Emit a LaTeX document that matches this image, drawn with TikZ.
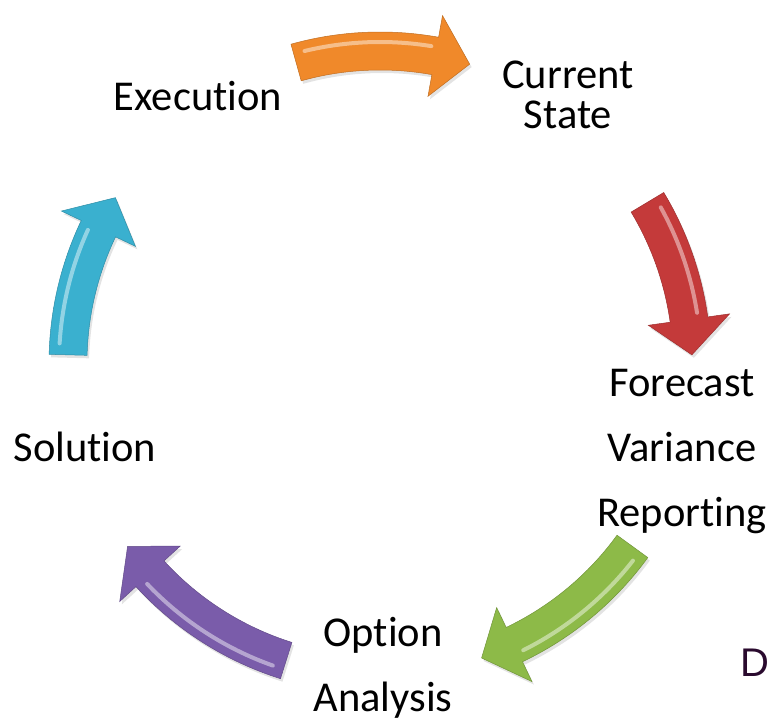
\documentclass[tikz,border=0pt]{standalone}
\usepackage{fontspec}
\setmainfont{Carlito}[Ligatures=NoCommon]
\newfontfamily\plainsans{Liberation Sans}
\usepackage{tikz}
\usetikzlibrary{shadows}
\usepackage{xcolor}

\definecolor{orangeA}{RGB}{240,137,42}
\definecolor{redA}{RGB}{196,58,58}
\definecolor{greenA}{RGB}{141,186,72}
\definecolor{purpleA}{RGB}{122,92,170}
\definecolor{cyanA}{RGB}{58,176,207}
\definecolor{inkD}{RGB}{42,10,46}

\begin{document}
\begin{tikzpicture}[
  x=1pt,y=1pt,
  lbl/.style={font=\fontsize{42.5}{65}\selectfont,align=center,inner sep=0pt,anchor=base},
  tight/.style={font=\fontsize{42.5}{40}\selectfont},
  cyc/.style={drop shadow={opacity=0.22,shadow xshift=2pt,shadow yshift=-3pt}},
  gloss/.style={white,opacity=0.45,line width=4pt,line cap=round},
]
\useasboundingbox (0,0) rectangle (769,723);
% ---------- centre of the cycle ----------
\coordinate (hub) at (380,360);
% ---------- stage labels (base = last line) ----------
\node[lbl] (exec) at (198,612) {Execution};
\node[lbl,tight] (curr) at (568,594) {Current\\State};
\node[lbl] (fcst) at (682,196) {Forecast\\Variance\\Reporting};
\node[lbl] (opt) at (383,11) {Option\\Analysis};
\node[lbl] (sol) at (85,261) {Solution};
\node[lbl,font=\plainsans\fontsize{40}{40}\selectfont,text=inkD] (dmark) at (755,46) {D};
% ---------- curved arrows round the hub ----------
% colour / tail angle / tip angle (clockwise)
\begin{scope}[shift={(hub)}]
\foreach \col/\s/\e in {orangeA/105.6/73.3, redA/31/1.5, greenA/-36/-71,
                        purpleA/-107.5/-144, cyanA/178.5/148}{
  \pgfmathsetmacro\b{\e+6.5}
  \fill[\col,cyc,draw=\col!80!black,line width=0.5pt]
    (\s:331pt) arc[start angle=\s,end angle=\b,radius=331pt]
    -- (\b:353pt) -- (\e:312pt) -- (\b:271pt) -- (\b:293pt)
    arc[start angle=\b,end angle=\s,radius=293pt] -- cycle;
  \pgfmathsetmacro\g{\s-2}
  \draw[gloss] (\g:321pt) arc[start angle=\g,end angle=\b+1,radius=321pt];
}
\end{scope}
\end{tikzpicture}
\end{document}
